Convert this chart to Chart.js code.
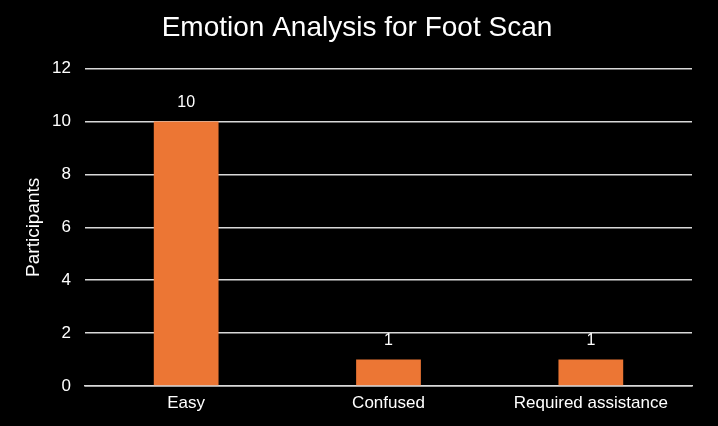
<!DOCTYPE html>
<html>
<head>
<meta charset="utf-8">
<script src="https://cdn.jsdelivr.net/npm/chart.js@4"></script>
<style>
html,body{margin:0;padding:0;background:#000;}
#wrap{width:718px;height:426px;position:relative;}
</style>
</head>
<body>
<div id="wrap"><canvas id="c" width="718" height="426"></canvas></div>
<script>
const categories = ["Easy", "Confused", "Required assistance"];
const participants = [10, 1, 1];
const yTicks = [0, 2, 4, 6, 8, 10, 12];
const chartTitle = "Emotion Analysis for Foot Scan";
const yTitle = "Participants";

const FONT = "'Liberation Sans', Arial, Helvetica, sans-serif";

const valueLabels = {
  id: 'valueLabels',
  afterDatasetsDraw(chart) {
    const ctx = chart.ctx;
    ctx.save();
    ctx.fillStyle = '#ffffff';
    ctx.font = '16px ' + FONT;
    ctx.textAlign = 'center';
    ctx.textBaseline = 'middle';
    chart.data.datasets.forEach((ds, i) => {
      chart.getDatasetMeta(i).data.forEach((bar, j) => {
        ctx.fillText(String(ds.data[j]), bar.x, bar.y - 19);
      });
    });
    ctx.restore();
  }
};

new Chart(document.getElementById('c'), {
  type: 'bar',
  data: {
    labels: categories,
    datasets: [{
      data: participants,
      backgroundColor: '#EC7634',
      borderWidth: 0,
      categoryPercentage: 1,
      barPercentage: 0.32
    }]
  },
  options: {
    responsive: false,
    animation: false,
    layout: { padding: { left: 22, right: 26, top: 0, bottom: 0 } },
    plugins: {
      legend: { display: false },
      tooltip: { enabled: false },
      title: {
        display: true,
        text: chartTitle,
        color: '#ffffff',
        font: { family: FONT, size: 28, weight: 'normal', lineHeight: 1.2 },
        padding: { top: 11, bottom: 24 }
      }
    },
    scales: {
      x: {
        grid: { display: false, drawTicks: false },
        border: { display: true, color: '#d9d9d9', width: 1.5 },
        ticks: { color: '#ffffff', font: { family: FONT, size: 17 }, padding: 7 },
        afterFit(s) { s.height = 40; }
      },
      y: {
        min: 0, max: 12,
        afterBuildTicks(s) { s.ticks = yTicks.map(v => ({ value: v })); },
        grid: { color: '#d9d9d9', lineWidth: 1.5, drawTicks: false },
        border: { display: false },
        ticks: { color: '#ffffff', font: { family: FONT, size: 17 }, padding: 14 },
        title: {
          display: true, text: yTitle, color: '#ffffff',
          font: { family: FONT, size: 19, lineHeight: 1.2 }, padding: 0
        },
        afterFit(s) { s.width = 63; }
      }
    }
  },
  plugins: [valueLabels]
});
</script>
</body>
</html>
